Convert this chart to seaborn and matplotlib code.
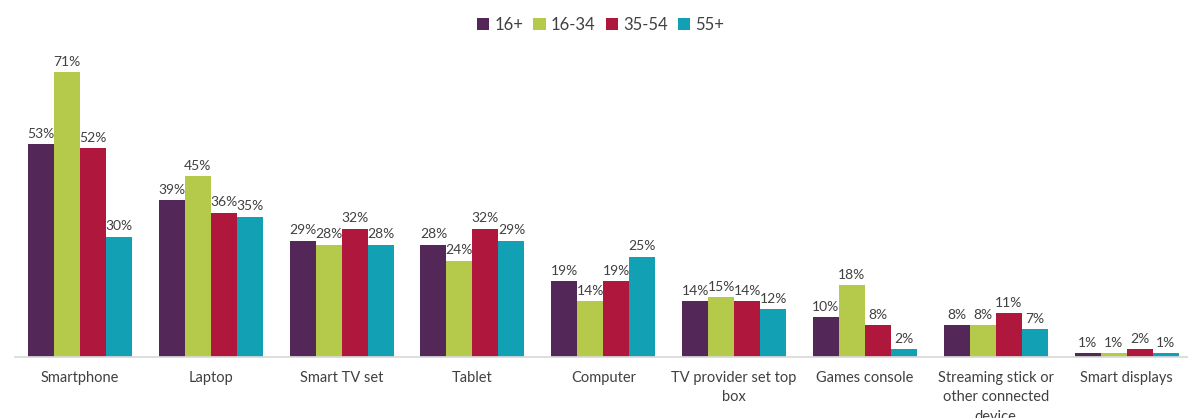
import matplotlib
matplotlib.use("Agg")
import matplotlib.pyplot as plt
import seaborn as sns
import pandas as pd

categories = ["Smartphone", "Laptop", "Smart TV set", "Tablet", "Computer",
              "TV provider set top\nbox", "Games console",
              "Streaming stick or\nother connected\ndevice", "Smart displays"]
series_names = ["16+", "16-34", "35-54", "55+"]
v_16plus = [53, 39, 29, 28, 19, 14, 10, 8, 1]
v_16_34 = [71, 45, 28, 24, 14, 15, 18, 8, 1]
v_35_54 = [52, 36, 32, 32, 19, 14, 8, 11, 2]
v_55plus = [30, 35, 28, 29, 25, 12, 2, 7, 1]
colors = ["#532859", "#b5c94a", "#b0173d", "#12a0b4"]

rows = []
for s, vals in zip(series_names, [v_16plus, v_16_34, v_35_54, v_55plus]):
    for c, v in zip(categories, vals):
        rows.append({"category": c, "series": s, "value": v})
df = pd.DataFrame(rows)

sns.set_theme(style="white")
plt.rcParams["font.family"] = ["Lato", "DejaVu Sans"]

fig = plt.figure(figsize=(11.88, 4.18), dpi=100)
ax = fig.add_axes([0.0123, 0.146, 0.991, 0.72])
sns.barplot(data=df, x="category", y="value", hue="series", order=categories,
            hue_order=series_names, palette=colors, width=0.795, gap=0,
            saturation=1, ax=ax, edgecolor="none", linewidth=0)

for cont in ax.containers:
    ax.bar_label(cont, labels=[f"{int(v)}%" for v in cont.datavalues],
                 padding=3, fontsize=10, color="#404040")

ax.set_ylim(0, 75)
ax.set_xlim(-0.5, len(categories) - 0.5)
ax.set_xlabel("")
ax.set_ylabel("")
ax.set_yticks([])
for sp in ["left", "right", "top"]:
    ax.spines[sp].set_visible(False)
ax.spines["bottom"].set_color("#d9d9d9")
ax.tick_params(axis="x", length=0, labelsize=10.5, labelcolor="#404040", pad=10)
for t in ax.get_xticklabels():
    t.set_linespacing(1.5)

handles, labels = ax.get_legend_handles_labels()
ax.legend(handles, labels, loc="upper center", bbox_to_anchor=(0.5055, 0.995),
          bbox_transform=fig.transFigure, ncol=4, frameon=False,
          fontsize=12, handlelength=0.75, handleheight=0.75, handletextpad=0.3,
          columnspacing=0.6, labelcolor="#404040")

fig.savefig("out.png", dpi=100)
